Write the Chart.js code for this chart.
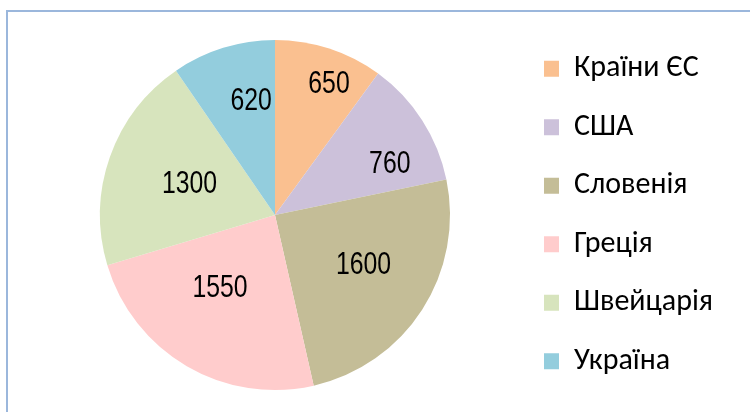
<!DOCTYPE html>
<html>
<head>
<meta charset="utf-8">
<script src="https://cdn.jsdelivr.net/npm/chart.js@4"></script>
<style>
html,body{margin:0;padding:0;background:#fff;}
#wrap{position:relative;width:750px;height:412px;overflow:hidden;}
#frame{position:absolute;left:6px;top:10px;width:760px;height:420px;border-left:2px solid #9bb7dc;border-top:2px solid #9bb7dc;box-sizing:border-box;}
</style>
</head>
<body>
<div id="wrap">
<canvas id="c" width="750" height="412"></canvas>
<div id="frame"></div>
</div>
<script>
const categories = ["Країни ЄС", "США", "Словенія", "Греція", "Швейцарія", "Україна"];
const values = [650, 760, 1600, 1550, 1300, 620];
const colors = ["#FAC090", "#CCC1DA", "#C4BD97", "#FFCCCC", "#D7E4BD", "#93CDDD"];
// label placement within each slice: r = fraction of radius, t = fraction of slice sweep
const labelPlacement = [
  {r:0.81, t:0.62}, {r:0.72, t:0.70}, {r:0.58, t:0.46},
  {r:0.52, t:0.58}, {r:0.52, t:0.51}, {r:0.67, t:0.66}
];

const legendFontSize = 30;
const legendFont = legendFontSize + 'px Carlito, "Open Sans", sans-serif';
const legendPad = 28.5;
const legendBox = 15;
const pieRadius = 175;
const pieCenterX = 275;
const legendBoxX = 544;

// compute legend width so the chart area/legend split lands where desired
const mctx = document.createElement('canvas').getContext('2d');
mctx.font = legendFont;
const maxText = Math.max(...categories.map(c => mctx.measureText(c).width));
const legendWidth = legendPad + legendBox + legendFontSize / 2 + maxText + 10;
const legendLeft = legendBoxX - legendPad;
const padLeft = 2 * pieCenterX - legendLeft;
const padRight = 750 - legendLeft - legendWidth;

const labelPlugin = {
  id: 'sliceLabels',
  afterDatasetsDraw(chart) {
    const ctx = chart.ctx;
    const meta = chart.getDatasetMeta(0);
    ctx.save();
    ctx.font = '31px "Liberation Sans", Arial, sans-serif';
    ctx.fillStyle = '#000';
    ctx.textAlign = 'center';
    ctx.textBaseline = 'middle';
    meta.data.forEach((arc, i) => {
      const p = arc.getProps(['x','y','startAngle','endAngle','outerRadius'], true);
      const lp = labelPlacement[i];
      const a = p.startAngle + (p.endAngle - p.startAngle) * lp.t;
      const r = p.outerRadius * lp.r;
      const x = p.x + Math.cos(a) * r, y = p.y + Math.sin(a) * r;
      ctx.save();
      ctx.translate(x, y);
      ctx.scale(0.8, 1);
      ctx.fillText(String(values[i]), 0, 1);
      ctx.restore();
    });
    ctx.restore();
  }
};

new Chart(document.getElementById('c'), {
  type: 'pie',
  data: {
    labels: categories,
    datasets: [{ data: values, backgroundColor: colors, borderWidth: 0 }]
  },
  options: {
    responsive: false,
    animation: false,
    radius: pieRadius,
    layout: { padding: { left: padLeft, right: Math.max(0, padRight), top: 18, bottom: 0 } },
    plugins: {
      tooltip: { enabled: false },
      legend: {
        position: 'right',
        align: 'center',
        labels: {
          boxWidth: legendBox, boxHeight: 16, padding: legendPad,
          color: '#000',
          font: { family: 'Carlito, "Open Sans", sans-serif', size: legendFontSize }
        }
      }
    }
  },
  plugins: [labelPlugin]
});
</script>
</body>
</html>
